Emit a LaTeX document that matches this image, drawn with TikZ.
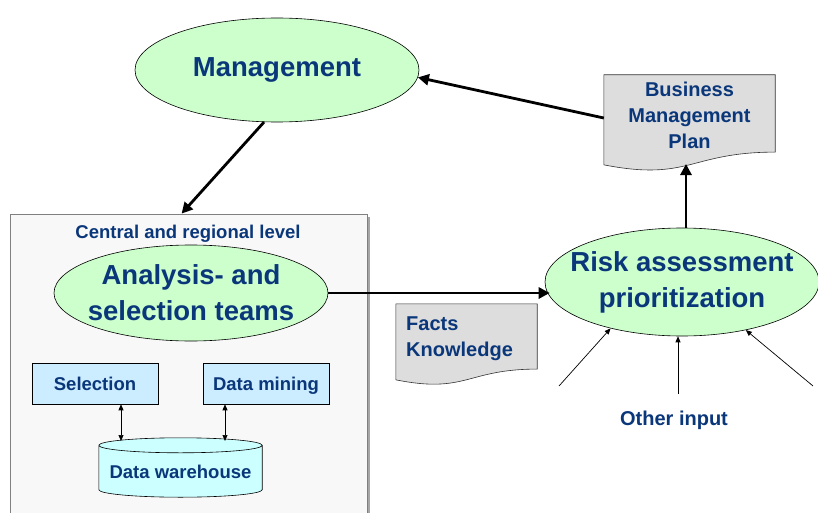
\documentclass[tikz,border=0pt]{standalone}
\usepackage{fontspec}
\setmainfont{Liberation Sans}
\usetikzlibrary{shapes.geometric,arrows.meta,calc}
\definecolor{txt}{RGB}{10,54,122}
\definecolor{ellfill}{RGB}{204,255,204}
\definecolor{boxfill}{RGB}{204,236,255}
\definecolor{cylfill}{RGB}{204,255,255}
\definecolor{docfill}{RGB}{221,221,221}
\definecolor{panelfill}{RGB}{248,248,248}
\tikzset{
  ell/.style={ellipse, draw=black, line width=0.6pt, fill=ellfill, inner sep=-60pt, text=txt, font=\bfseries\fontsize{27.5}{36}\selectfont, align=center},
  smallbox/.style={rectangle, draw=black, line width=0.6pt, fill=boxfill, minimum width=126pt, minimum height=41pt, inner sep=0pt, text=txt, text height=13pt, text depth=0pt, font=\bfseries\fontsize{18.5}{22}\selectfont},
  panel/.style={rectangle, draw=gray, line width=0.8pt, fill=panelfill, inner sep=0pt},
  doctext/.style={rectangle, inner sep=0pt, text=txt, font=\bfseries\fontsize{20}{26}\selectfont},
  docline/.style={draw=black!80, line width=0.6pt, fill=docfill},
  lbl/.style={text=txt, font=\bfseries\fontsize{18.5}{22}\selectfont, inner sep=0pt},
  bigarrow/.style={line width=2.8pt, -{Triangle[length=11pt,width=11pt]}},
  thinarrow/.style={line width=0.7pt, -{Triangle[length=6pt,width=5pt]}},
  dblarrow/.style={line width=0.7pt, {Triangle[length=6pt,width=5pt]}-{Triangle[length=6pt,width=5pt]}},
}
\newcommand\docpath[1]{%
  \path[docline] let \p1=(#1.north west), \p2=(#1.south east) in
    (\x1,\y1) -- (\x2,\y1) -- (\x2,{\y1+0.802*(\y2-\y1)})
    .. controls ({0.5*(\x1+\x2)},{\y1+0.802*(\y2-\y1)}) and ({0.5*(\x1+\x2)},{\y1+1.108*(\y2-\y1)}) ..
    (\x1,{\y1+0.934*(\y2-\y1)}) -- cycle;}
\begin{document}
\begin{tikzpicture}[x=1pt,y=-1pt]
\useasboundingbox (0,0) rectangle (818,513);
\fill[white] (0,0) rectangle (818,513);

% panel with shadow
\fill[gray!70] (13,217) rectangle (370,533);
\node[panel, minimum width=357pt, minimum height=316pt] (cbox) at (188.5,372) {};
\node[lbl, anchor=base] (clabel) at (188,238) {Central and regional level};

% ellipses
\node[ell, minimum width=284pt, minimum height=104pt] (mgmt) at (277,70) {Management};
\node[ell, minimum width=274pt, minimum height=96pt] (ana) at (191,293) {Analysis- and\\selection teams};
\node[ell, minimum width=274pt, minimum height=108pt] (risk) at (682,282) {Risk assessment\\prioritization};

% small boxes
\node[smallbox] (sel) at (95,383.5) {Selection};
\node[smallbox] (dm) at (266,383.5) {Data mining};

% data warehouse cylinder
\node[minimum width=163pt, minimum height=59pt, inner sep=0pt] (dw) at (180.5,467.5) {};
\path[draw=black, line width=0.6pt, fill=cylfill] let \p1=(dw.north west), \p2=(dw.south east), \n1={(\x2-\x1)/2} in
  (\x1,\y1-7.5pt) -- (\x1,\y2+7.5pt) arc[start angle=180, end angle=360, x radius=\n1, y radius=7.5pt]
  -- (\x2,\y1-7.5pt) arc[start angle=0, end angle=180, x radius=\n1, y radius=7.5pt] -- cycle
  (\x1,\y1-7.5pt) arc[start angle=180, end angle=360, x radius=\n1, y radius=7.5pt];
\node[lbl] (dwtext) at (180.5,471.5) {Data warehouse};

\coordinate (dwa) at (121,441);
\coordinate (dwb) at (225,441);
\draw[dblarrow] (sel.south -| dwa) -- (dwa);
\draw[dblarrow] (dm.south -| dwb) -- (dwb);

% documents
\node[doctext, minimum width=171pt, minimum height=96pt, align=center] (bmp) at (689.5,123) {};
\docpath{bmp}
\node[doctext, align=center] (bmptext) at (689.5,115) {Business\\Management\\Plan};
\coordinate (bmpb) at (686,164);

\node[doctext, minimum width=141pt, minimum height=81pt] (facts) at (466.5,344.5) {};
\docpath{facts}
\node[doctext, align=left, anchor=north west] (factstext) at (406,317) {Facts\\Knowledge};

% other input
\node[lbl, anchor=base, font=\bfseries\fontsize{20}{24}\selectfont] (other) at (674,425) {Other input};
\coordinate (oi1) at (559,386);
\coordinate (oi2) at (678,394);
\coordinate (oi3) at (813,386);
\draw[thinarrow] (oi1) -- (risk.213);
\draw[thinarrow] (oi2) -- (oi2 |- risk.south);
\draw[thinarrow] (oi3) -- (risk.323);

% main arrows
\draw[bigarrow] (mgmt.256) -- ([xshift=172pt]cbox.north west);
\draw[bigarrow] (ana.east) -- ([xshift=5pt]ana.east -| risk.west);
\draw[bigarrow] (risk.north -| bmpb) -- (bmpb);
\draw[bigarrow] ([yshift=5pt]bmp.west) -- (mgmt.357);
\end{tikzpicture}
\end{document}
